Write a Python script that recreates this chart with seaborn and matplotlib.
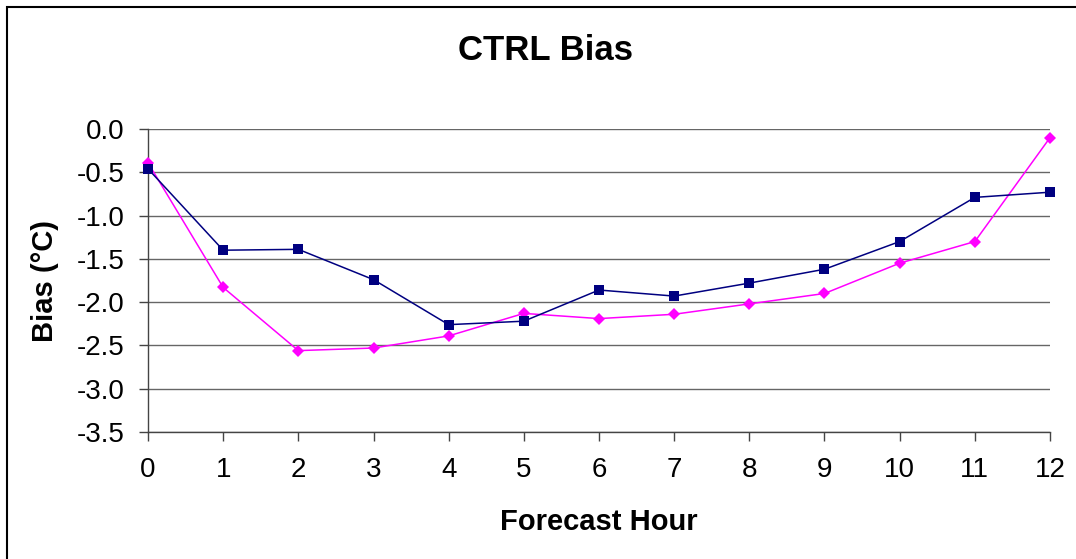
import matplotlib
matplotlib.use("Agg")
import matplotlib.pyplot as plt
import seaborn as sns
import pandas as pd
from matplotlib.patches import Rectangle

hours = list(range(13))
navy_bias = [-0.46, -1.40, -1.39, -1.74, -2.26, -2.22, -1.86, -1.93, -1.78, -1.62, -1.30, -0.79, -0.73]
magenta_bias = [-0.39, -1.83, -2.56, -2.53, -2.39, -2.13, -2.19, -2.14, -2.02, -1.90, -1.55, -1.30, -0.10]
y_ticks = [0.0, -0.5, -1.0, -1.5, -2.0, -2.5, -3.0, -3.5]

sns.set_style("white")
plt.rcParams['font.family'] = ['Liberation Sans', 'DejaVu Sans']
plt.rcParams['text.color'] = 'black'

fig = plt.figure(figsize=(10.76, 5.59), dpi=100)
ax = fig.add_axes([148/1076, 1 - 432/559, (1050-148)/1076, (432-129)/559])

df_navy = pd.DataFrame({"hour": hours, "bias": navy_bias})
df_mag = pd.DataFrame({"hour": hours, "bias": magenta_bias})

sns.lineplot(data=df_mag, x="hour", y="bias", ax=ax, color="#FF00FF", lw=1.1,
             marker="D", markersize=6.2, markeredgewidth=0, zorder=3, clip_on=False)
sns.lineplot(data=df_navy, x="hour", y="bias", ax=ax, color="#000080", lw=1.1,
             marker="s", markersize=7.5, markeredgewidth=0, zorder=4, clip_on=False)

ax.set_xlim(0, 12)
ax.set_ylim(-3.5, 0.0)
ax.set_xticks(hours)
ax.set_xticklabels([str(h) for h in hours])
ax.set_yticks(y_ticks)
ax.set_yticklabels([f"{v:.1f}" for v in y_ticks])
ax.yaxis.grid(True, color="#666666", lw=1.0)
ax.xaxis.grid(False)
ax.set_axisbelow(True)

for s in ["top", "right"]:
    ax.spines[s].set_visible(False)
for s in ["left", "bottom"]:
    ax.spines[s].set_color("#444444")
    ax.spines[s].set_linewidth(1.0)

ax.tick_params(axis="both", direction="out", length=6.5, width=1.0, color="#444444",
               labelsize=20, labelcolor="black", left=True, bottom=True)
ax.tick_params(axis="y", pad=10.5)
ax.tick_params(axis="x", pad=11.5)

ax.set_xlabel("")
ax.set_ylabel("")
fig.text(545/1076, 1 - 50/559, "CTRL Bias", ha="center", va="center",
         fontsize=25, fontweight="bold", color="black")
fig.text(599/1076, 1 - 522/559, "Forecast Hour", ha="center", va="center",
         fontsize=21, fontweight="bold", color="black")
fig.text(45/1076, 1 - 281/559, "Bias (\u00b0C)", ha="center", va="center",
         rotation=90, fontsize=21, fontweight="bold", color="black")

fig.patches.append(Rectangle((7/1076, -0.1), 1.2, 1 - 7/559 + 0.1,
                             transform=fig.transFigure, fill=False,
                             edgecolor="black", lw=1.5))

fig.savefig("out.png", dpi=100)
